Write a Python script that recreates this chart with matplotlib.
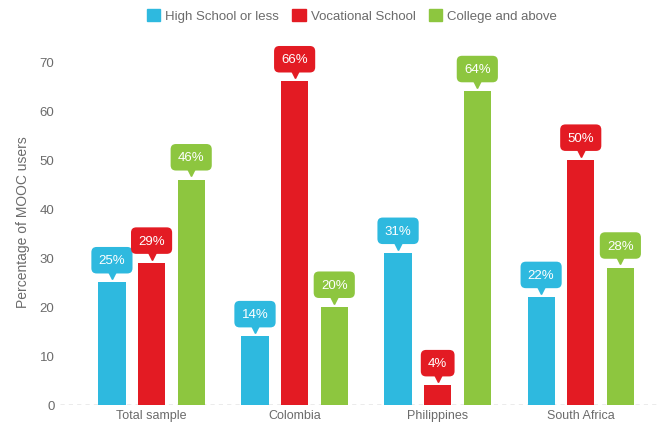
import matplotlib.pyplot as plt
import numpy as np
from matplotlib.patches import Patch
from matplotlib.transforms import offset_copy

plt.rcParams['font.family'] = ['Liberation Sans', 'DejaVu Sans']

countries = ['Total sample', 'Colombia', 'Philippines', 'South Africa']
series = ['High School or less', 'Vocational School', 'College and above']
high_school = [25, 14, 31, 22]
vocational = [29, 66, 4, 50]
college = [46, 20, 64, 28]
colors = ['#2EB9DF', '#E31B23', '#8DC63F']

fig = plt.figure(figsize=(6.58, 4.27), dpi=100)
ax = fig.add_axes([0.0912, 0.0492, 0.9088, 0.861])

x = np.arange(len(countries))
step = 0.277
width = 0.19
grey = '#6b6b6b'

for i, (vals, c) in enumerate(zip([high_school, vocational, college], colors)):
    xs = x + (i - 1) * step
    ax.bar(xs, vals, width, color=c, zorder=2)
    tri = offset_copy(ax.transData, fig=fig, x=0, y=6, units='points')
    for xi, v in zip(xs, vals):
        ax.plot(xi, v, marker='v', markersize=7, color=c, transform=tri,
                clip_on=False, zorder=3)
        ax.annotate('{}%'.format(v), xy=(xi, v), xytext=(0, 16),
                    textcoords='offset points', ha='center', va='center',
                    color='white', fontsize=9.5, zorder=4,
                    bbox=dict(boxstyle='round,pad=0.55,rounding_size=0.4',
                              fc=c, ec='none'))

ax.set_xlim(-0.64, 3.54)
ax.set_ylim(0, 75)
ax.set_yticks(range(0, 71, 10))
ax.set_xticks(x)
ax.set_xticklabels(countries)
ax.tick_params(length=0, colors=grey, labelsize=9)
ax.tick_params(axis='x', pad=3)
ax.tick_params(axis='y', labelsize=9.5, pad=4)
for s in ax.spines.values():
    s.set_visible(False)
ax.axhline(0, color='#999999', linestyle=(0, (3, 3)), linewidth=1, zorder=1)
ax.set_ylabel('Percentage of MOOC users', color=grey, fontsize=10, labelpad=7)

handles = [Patch(color=c) for c in colors]
fig.legend(handles, series, loc='upper center', bbox_to_anchor=(0.535, 1.005),
           ncol=3, frameon=False, fontsize=9.5, labelcolor=grey,
           handlelength=1.0, handleheight=1.0, handletextpad=0.4,
           columnspacing=1.0)

plt.savefig('out.png', dpi=100)
